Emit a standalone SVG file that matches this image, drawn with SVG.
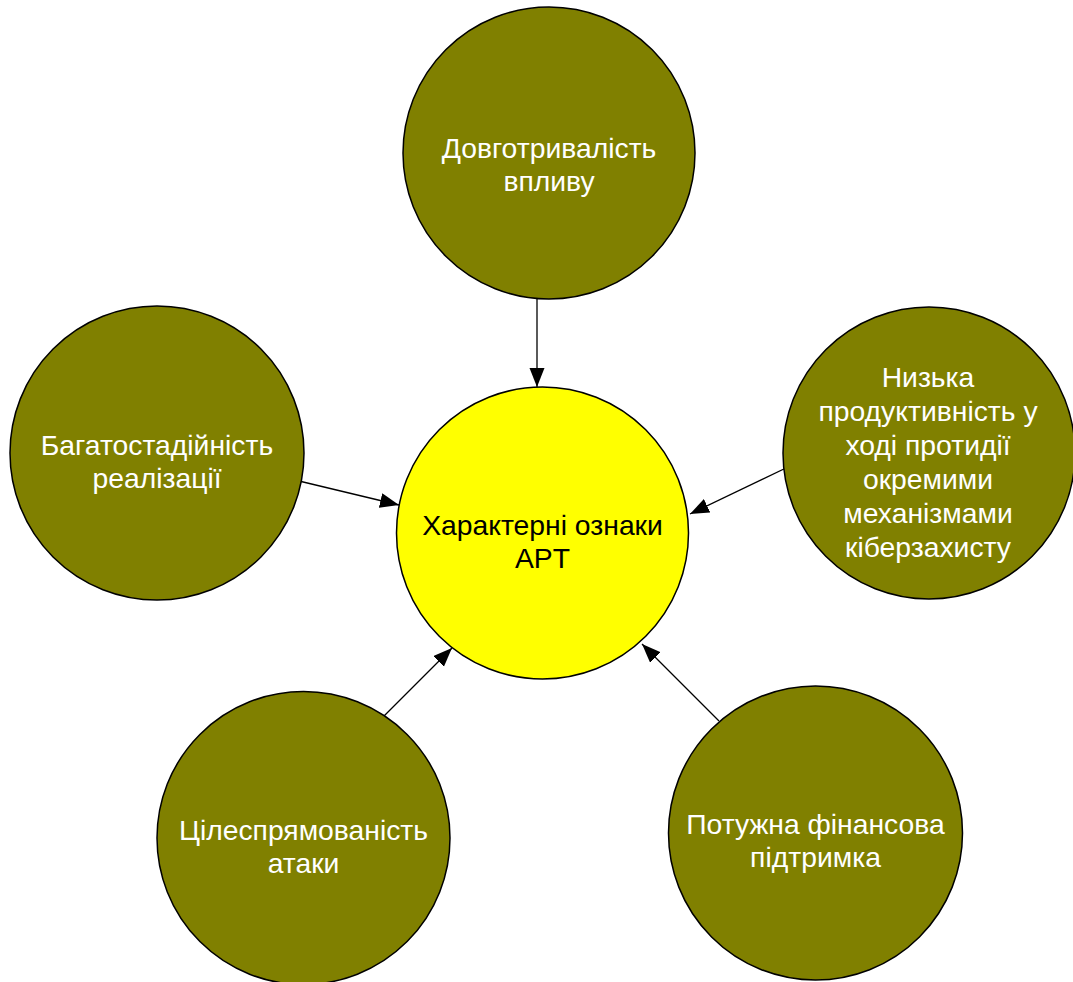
<svg xmlns="http://www.w3.org/2000/svg" width="1073" height="982" viewBox="0 0 1073 982">
  <style>
    .bubble { fill: #808000; stroke: #000; stroke-width: 1.5; }
    .core { fill: #ffff00; stroke: #000; stroke-width: 1.5; }
    .lbl { font-family: "Liberation Sans", Arial, sans-serif; font-size: 28.3px; fill: #fff; text-anchor: middle; }
    .lbl-dark { fill: #000; }
    .link { stroke: #000; stroke-width: 1.3; fill: none; marker-end: url(#head); }
  </style>
  <defs>
    <marker id="head" markerUnits="userSpaceOnUse" markerWidth="20" markerHeight="16" refX="19" refY="7.5" orient="auto">
      <path d="M0,0 L19,7.5 L0,15 Z" fill="#000"/>
    </marker>
  </defs>
  <rect width="1073" height="982" fill="#fff"/>

  <g id="connectors">
    <line class="link" x1="537" y1="299" x2="537" y2="387"/>
    <line class="link" x1="299" y1="481" x2="399" y2="505"/>
    <line class="link" x1="788" y1="467" x2="690" y2="514"/>
    <line class="link" x1="384" y1="716" x2="452" y2="648"/>
    <line class="link" x1="719" y1="721" x2="642" y2="644"/>
  </g>

  <g id="node-duration">
    <circle class="bubble" cx="549" cy="153" r="146"/>
    <text class="lbl" x="549" y="158">Довготривалість</text>
    <text class="lbl" x="549" y="191">впливу</text>
  </g>

  <g id="node-multistage">
    <circle class="bubble" cx="157" cy="453" r="147"/>
    <text class="lbl" x="157" y="455">Багатостадійність</text>
    <text class="lbl" x="157" y="488">реалізації</text>
  </g>

  <g id="node-low-efficiency">
    <circle class="bubble" cx="929" cy="453" r="146"/>
    <text class="lbl" x="928" y="387">Низька</text>
    <text class="lbl" x="928" y="421">продуктивність у</text>
    <text class="lbl" x="928" y="455">ході протидії</text>
    <text class="lbl" x="928" y="489">окремими</text>
    <text class="lbl" x="928" y="523">механізмами</text>
    <text class="lbl" x="928" y="557">кіберзахисту</text>
  </g>

  <g id="node-center">
    <circle class="core" cx="542.5" cy="533" r="146"/>
    <text class="lbl lbl-dark" x="542.5" y="535">Характерні ознаки</text>
    <text class="lbl lbl-dark" x="542.5" y="568">APT</text>
  </g>

  <g id="node-targeted">
    <circle class="bubble" cx="303.5" cy="838" r="146.5"/>
    <text class="lbl" x="303.5" y="840">Цілеспрямованість</text>
    <text class="lbl" x="303.5" y="873">атаки</text>
  </g>

  <g id="node-funding">
    <circle class="bubble" cx="815.5" cy="833" r="147"/>
    <text class="lbl" x="815.5" y="834">Потужна фінансова</text>
    <text class="lbl" x="815.5" y="867">підтримка</text>
  </g>
</svg>
